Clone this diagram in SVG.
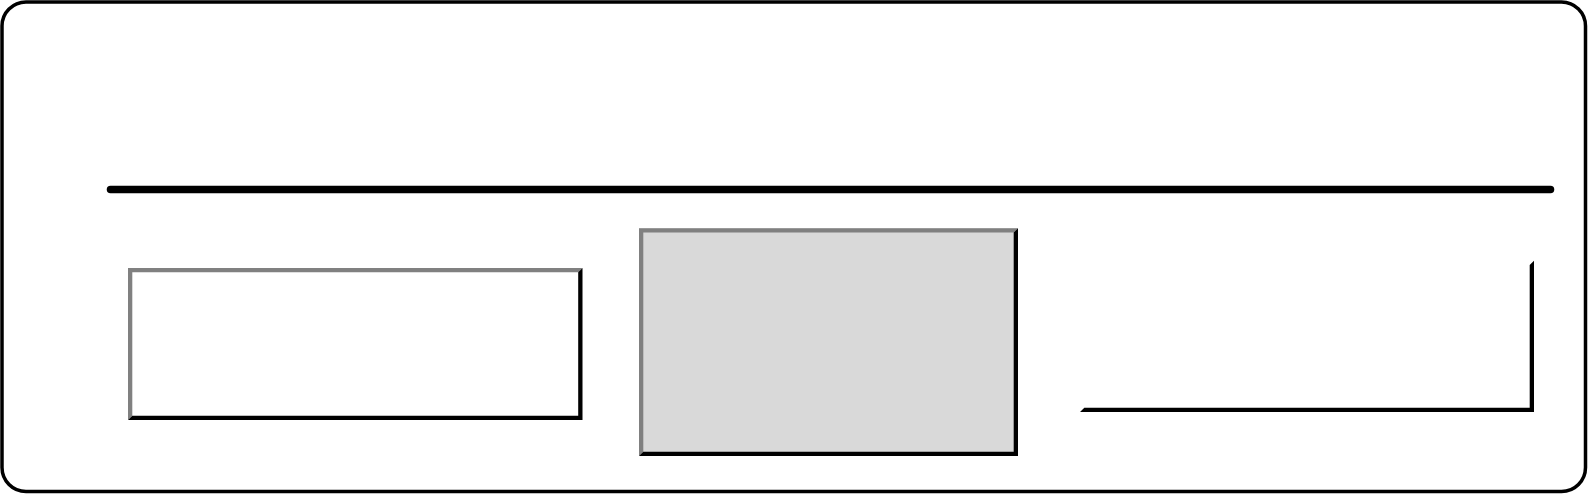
<svg xmlns="http://www.w3.org/2000/svg" width="1588" height="496" viewBox="0 0 1588 496">
<style>
.frame{fill:#ffffff;stroke:#000000;stroke-width:3.5}
.rule{stroke:#000000;stroke-width:7.5;stroke-linecap:round;fill:none}
.dark{fill:#000000}
.mid{fill:#808080}
.light{fill:#ffffff}
</style>
<rect class="frame" x="2" y="2" width="1583.5" height="489.5" rx="24" ry="24"/>
<g id="connectors">
<line class="rule" x1="110.5" y1="189.5" x2="1550.5" y2="189.5"/>
</g>
<g id="box1">
<rect x="128" y="268" width="454.5" height="152" fill="#ffffff"/>
<polygon class="mid" points="128,268 582.5,268 578.2,272.3 132.3,272.3 132.3,415.7 128,420"/>
<polygon class="dark" points="582.5,268 582.5,420 128,420 132.3,415.7 578.2,415.7 578.2,272.3"/>
</g>
<g id="box2">
<rect x="639" y="228.3" width="379" height="227.7" fill="#d9d9d9"/>
<polygon class="mid" points="639,228.3 1018,228.3 1013.7,232.6 643.3,232.6 643.3,451.7 639,456"/>
<polygon class="dark" points="1018,228.3 1018,456 639,456 643.3,451.7 1013.7,451.7 1013.7,232.6"/>
</g>
<g id="box3">
<rect x="1080" y="260.7" width="454" height="151.3" fill="#ffffff"/>
<polygon class="light" points="1080,260.7 1534,260.7 1529.7,265 1084.3,265 1084.3,407.7 1080,412"/>
<polygon class="dark" points="1534,260.7 1534,412 1080,412 1084.3,407.7 1529.7,407.7 1529.7,265"/>
</g>
</svg>
